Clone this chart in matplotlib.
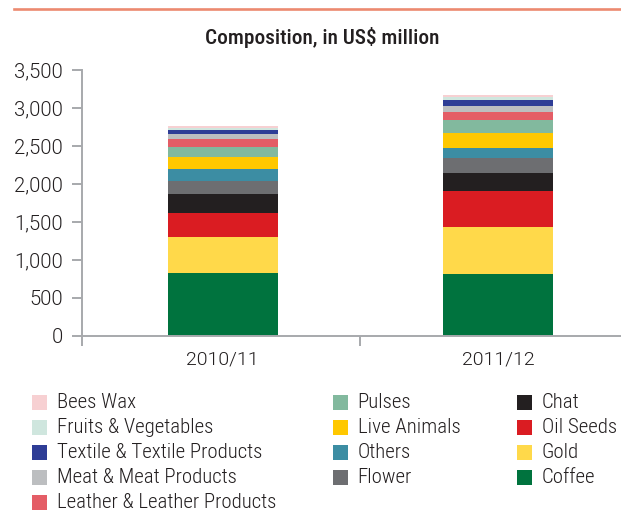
import matplotlib
matplotlib.use("Agg")
import matplotlib.pyplot as plt
from matplotlib.patches import Rectangle
from matplotlib.lines import Line2D
from matplotlib.ticker import FuncFormatter, FixedLocator
import numpy as np

# ---- data (US$ million) ----
years = ["2010/11", "2011/12"]
# stacking order, bottom to top
products = [
    "Coffee", "Gold", "Oil Seeds", "Chat", "Flower", "Others",
    "Live Animals", "Pulses", "Leather & Leather Products",
    "Meat & Meat Products", "Textile & Textile Products",
    "Fruits & Vegetables", "Bees Wax",
]
values_2010 = [826, 474, 316, 251, 171, 158, 158, 132, 105, 66, 53, 30, 22]
values_2011 = [813, 619, 474, 237, 198, 132, 201, 167, 106, 79, 79, 43, 23]
colors = [
    "#00733e", "#ffd94a", "#da1c22", "#231f20", "#6d6e71", "#3c8da3",
    "#ffc800", "#82b99e", "#e45d66", "#bcbec0", "#2e3d96",
    "#cfe6de", "#f7d0d2",
]
yticks = [0, 500, 1000, 1500, 2000, 2500, 3000, 3500]

W, H = 621, 527
fig = plt.figure(figsize=(W / 100, H / 100), dpi=100)

COND = ["Roboto Condensed", "DejaVu Sans"]
NUM = ["Roboto", "DejaVu Sans"]
TEXT = "#231f20"
AXIS = "#a7a9ac"

def px(x, y):
    return x / W, 1 - y / H

# rule along the top
x0, y0 = px(14, 8.7)
fig.add_artist(Line2D([x0, 1.0], [y0, y0], color="#ec8a70", lw=1.9,
                      transform=fig.transFigure))

# chart title
tx, ty = px(322, 37)
fig.text(tx, ty, "Composition, in US$ million", ha="center", va="center",
         family=COND, fontsize=15.3, fontweight=500, color=TEXT)

# ---- axes ----
left = 82.2 / W
bottom = (H - 335.7) / H
top = (H - 70) / H
ax = fig.add_axes([left, bottom, 1 - left, top - bottom])

x = np.arange(len(years))
data = np.array([values_2010, values_2011]).T
base = np.zeros(len(years))
for name, vals, c in zip(products, data, colors):
    ax.bar(x, vals, bottom=base, width=0.4, color=c, linewidth=0, label=name)
    base += vals

xl = -0.511
ax.set_xlim(xl, 1.4475)
ax.set_ylim(0, 3500)

for s in ("top", "right"):
    ax.spines[s].set_visible(False)
for s in ("left", "bottom"):
    ax.spines[s].set_color(AXIS)
    ax.spines[s].set_linewidth(1.4)

ax.set_yticks(yticks)
ax.yaxis.set_major_formatter(FuncFormatter(lambda v, p: f"{v:,.0f}"))
ax.tick_params(axis="y", direction="out", length=7.2, width=1.4, color=AXIS,
               pad=6.5, labelsize=14.6, labelcolor=TEXT)
for lab in ax.get_yticklabels():
    lab.set_family(NUM)
    lab.set_fontweight(300)

ax.set_xticks(x)
ax.set_xticklabels(years)
ax.tick_params(axis="x", which="major", length=0, pad=11, labelsize=14,
               labelcolor=TEXT)
for lab in ax.get_xticklabels():
    lab.set_family(NUM)
    lab.set_fontweight(300)
ax.xaxis.set_minor_locator(FixedLocator([xl, 0.5]))
ax.tick_params(axis="x", which="minor", direction="out", length=7.2,
               width=1.4, color=AXIS)

# ---- legend (three columns, top of stack first) ----
legend_cols = [
    ["Bees Wax", "Fruits & Vegetables", "Textile & Textile Products",
     "Meat & Meat Products", "Leather & Leather Products"],
    ["Pulses", "Live Animals", "Others", "Flower"],
    ["Chat", "Oil Seeds", "Gold", "Coffee"],
]
col_x = [32.3, 333.3, 517.3]
row_y0, row_dy, box = 402.3, 25.0, 14.4
color_of = dict(zip(products, colors))
for cx, names in zip(col_x, legend_cols):
    for i, name in enumerate(names):
        cy = row_y0 + i * row_dy
        bx, by = px(cx, cy + box / 2)
        fig.add_artist(Rectangle((bx, by), box / W, box / H,
                                 transform=fig.transFigure,
                                 facecolor=color_of[name], edgecolor="none"))
        lx, ly = px(cx + 24.4, cy)
        fig.text(lx, ly, name, ha="left", va="center", family=COND,
                 fontsize=15, fontweight=300, color=TEXT)

fig.savefig("out.png", dpi=100)
